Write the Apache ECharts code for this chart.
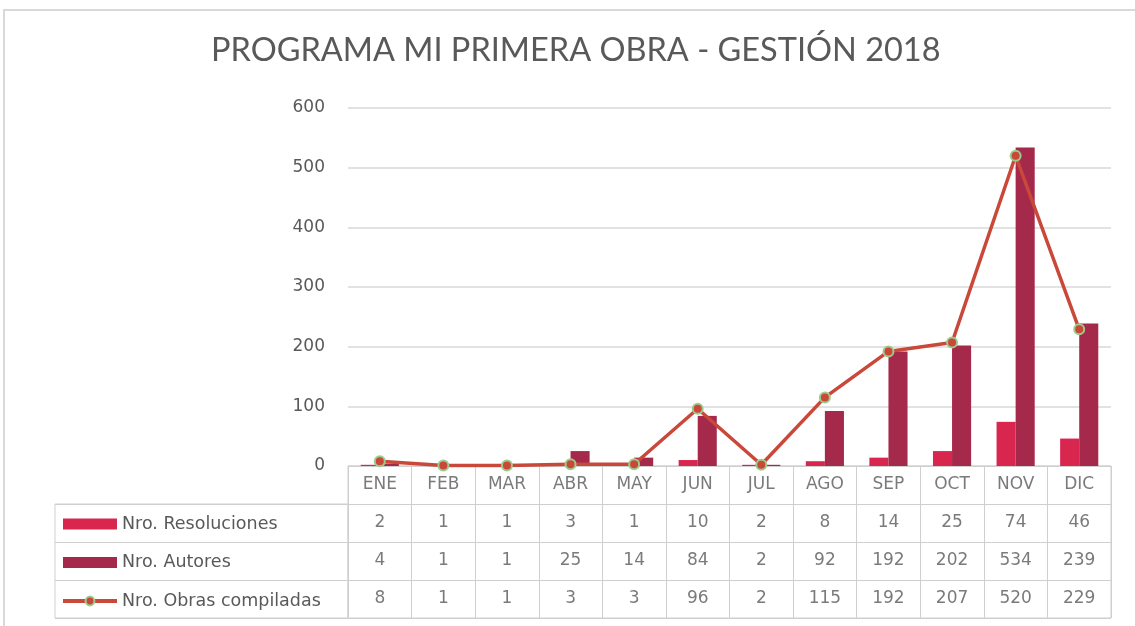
<!DOCTYPE html>
<html>
<head>
<meta charset="utf-8">
<script src="https://cdn.jsdelivr.net/npm/echarts@6/dist/echarts.min.js"></script>
<style>
  html, body { margin: 0; padding: 0; background: #fff; }
  #chart { width: 1135px; height: 626px; }
</style>
</head>
<body>
<div id="chart"></div>
<script>
const months = ['ENE', 'FEB', 'MAR', 'ABR', 'MAY', 'JUN', 'JUL', 'AGO', 'SEP', 'OCT', 'NOV', 'DIC']
const resoluciones = [2, 1, 1, 3, 1, 10, 2, 8, 14, 25, 74, 46]
const autores = [4, 1, 1, 25, 14, 84, 2, 92, 192, 202, 534, 239]
const obras = [8, 1, 1, 3, 3, 96, 2, 115, 192, 207, 520, 229]
const seriesNames = ['Nro. Resoluciones', 'Nro. Autores', 'Nro. Obras compiladas']
const yTicks = { min: 0, max: 600, interval: 100 }

const textColor = '#595959'
const tableFont = 'DejaVu Sans'

// celdas de la tabla: fila 0 = meses, filas 1..3 = valores
const rows = [months, resoluciones, autores, obras]
const cells = []
rows.forEach((row, r) => {
    row.forEach((v, i) => {
        cells.push([i, r, String(v)])
    })
})

const chart = echarts.init(document.getElementById('chart'))

const option = {
    backgroundColor: '#ffffff',
    title: {
        text: 'PROGRAMA MI PRIMERA OBRA - GESTIÓN 2018',
        left: 206,
        top: 29,
        textStyle: {
            fontFamily: 'Lato',
            fontSize: 32.5,
            fontWeight: 'normal',
            color: textColor
        }
    },
    legend: {
        orient: 'vertical',
        left: 56,
        top: 509,
        itemWidth: 54,
        itemHeight: 11,
        itemGap: 18.5,
        selectedMode: false,
        textStyle: {
            fontFamily: tableFont,
            fontSize: 17.5,
            lineHeight: 20,
            color: textColor
        },
        data: [
            { name: seriesNames[0], icon: 'rect' },
            { name: seriesNames[1], icon: 'rect' },
            { name: seriesNames[2], lineStyle: { width: 4 } }
        ]
    },
    grid: [
        // grafico
        { left: 348, right: 24, top: 108, bottom: 160 },
        // tabla de datos
        { left: 348, right: 24, top: 466, bottom: 8, show: true, borderColor: '#cfcfcf', borderWidth: 1 },
        // columna de leyenda
        { left: 55, width: 293, top: 504, bottom: 8, show: true, borderColor: '#cfcfcf', borderWidth: 1 }
    ],
    xAxis: [
        {
            type: 'category',
            gridIndex: 0,
            data: months,
            axisLine: { show: false },
            axisTick: { show: false },
            axisLabel: { show: false }
        },
        {
            type: 'category',
            gridIndex: 1,
            data: months,
            axisLine: { show: false },
            axisTick: { show: false },
            axisLabel: { show: false },
            splitLine: { show: true, interval: 0, lineStyle: { color: '#cfcfcf' } }
        },
        {
            type: 'value',
            gridIndex: 2,
            show: false
        }
    ],
    yAxis: [
        {
            type: 'value',
            gridIndex: 0,
            min: yTicks.min,
            max: yTicks.max,
            interval: yTicks.interval,
            axisLine: { show: false },
            axisTick: { show: false },
            axisLabel: {
                margin: 23,
                fontFamily: tableFont,
                fontSize: 17,
                color: textColor
            },
            splitLine: { lineStyle: { color: '#d9d9d9', width: 1.5 } }
        },
        {
            type: 'category',
            gridIndex: 1,
            inverse: true,
            data: ['h', 'r', 'a', 'o'],
            axisLine: { show: false },
            axisTick: { show: false },
            axisLabel: { show: false },
            splitLine: { show: true, interval: 0, lineStyle: { color: '#cfcfcf' } }
        },
        {
            type: 'category',
            gridIndex: 2,
            inverse: true,
            data: ['r', 'a', 'o'],
            axisLine: { show: false },
            axisTick: { show: false },
            axisLabel: { show: false },
            splitLine: { show: true, interval: 0, lineStyle: { color: '#cfcfcf' } }
        }
    ],
    series: [
        {
            name: seriesNames[0],
            type: 'bar',
            data: resoluciones,
            barWidth: '30%',
            barGap: '0%',
            itemStyle: { color: '#d9264f' }
        },
        {
            name: seriesNames[1],
            type: 'bar',
            data: autores,
            barWidth: '30%',
            barGap: '0%',
            itemStyle: { color: '#a5294b' }
        },
        {
            name: seriesNames[2],
            type: 'line',
            data: obras,
            symbol: 'circle',
            symbolSize: 10,
            z: 5,
            lineStyle: { color: '#c9483a', width: 3.5 },
            itemStyle: { color: '#c9483a', borderColor: '#9ccb8c', borderWidth: 2 }
        },
        {
            // textos de la tabla
            type: 'scatter',
            xAxisIndex: 1,
            yAxisIndex: 1,
            data: cells,
            symbolSize: 1,
            silent: true,
            itemStyle: { color: 'transparent' },
            label: {
                show: true,
                position: 'inside',
                formatter: p => p.value[2],
                fontFamily: tableFont,
                fontSize: 17,
                color: textColor
            }
        }
    ],
    graphic: [
        {
            type: 'rect',
            shape: { x: 4, y: 10, width: 1140, height: 630 },
            style: { fill: 'none', stroke: '#d9d9d9', lineWidth: 2 },
            silent: true
        }
    ]
}

chart.setOption(option)
</script>
</body>
</html>
